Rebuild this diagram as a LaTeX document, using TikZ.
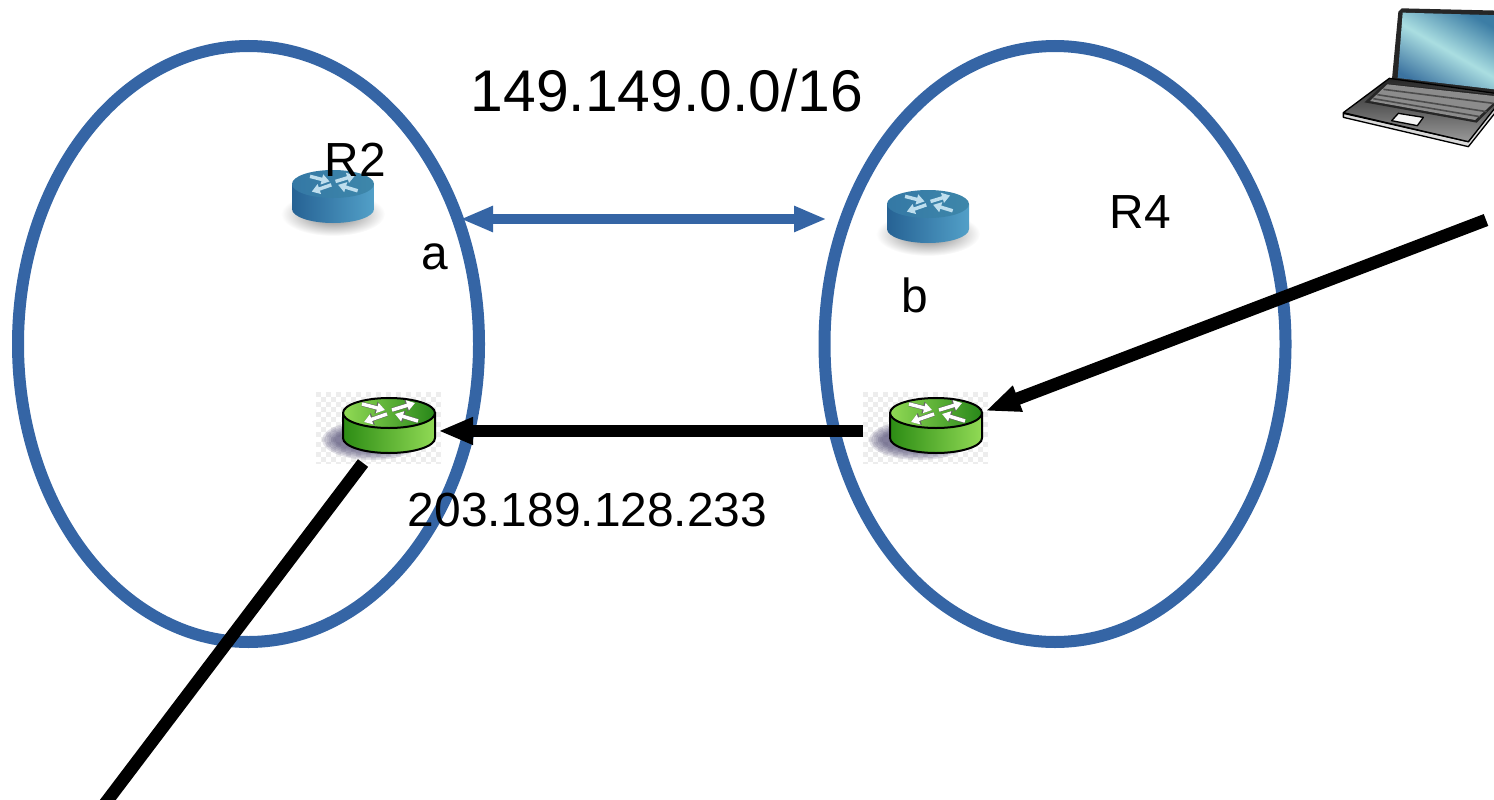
\documentclass[tikz,border=0pt]{standalone}
\usepackage{fontspec}
\setmainfont{Liberation Sans}
\usetikzlibrary{arrows.meta,shapes.geometric}
\definecolor{ringblue}{HTML}{3565A5}
\definecolor{softshadow}{HTML}{4A4570}
\tikzset{
  ring/.style={draw=ringblue,line width=9pt,ellipse,inner sep=0pt,outer sep=0pt,minimum width=345.75pt,minimum height=447pt},
  bluelink/.style={draw=ringblue,line width=8pt,{Triangle[length=24.5pt,width=18pt]}-{Triangle[length=24.5pt,width=18pt]},shorten <=-2pt,shorten >=-2pt},
  flow/.style={draw=black,line width=9.5pt,-{Triangle[length=26pt,width=19pt]},shorten >=-2pt},
  flowplain/.style={draw=black,line width=9.5pt},
  big/.style={font=\fontsize{44.1pt}{50pt}\selectfont,inner sep=0pt},
  mid/.style={font=\fontsize{35.9pt}{42pt}\selectfont,inner sep=0pt},
  tile/.style={inner sep=0pt,outer sep=0pt,minimum width=93.75pt,minimum height=53.25pt},
  rarrowfill/.style={line width=2.6pt,-{Triangle[length=6pt,width=7.5pt]},line cap=butt},
  rarrowedge/.style={line width=3.4pt,-{Triangle[length=7pt,width=8.8pt]},line cap=butt},
}
\newcommand{\routerbody}[9]{%
  \begin{scope}[shift={#1}]
    \shade[left color=#5,right color=#6,#9]
      (-#2,0) -- (-#2,#4) arc[start angle=180,end angle=0,x radius=#2,y radius=#3] -- (#2,0) -- cycle;
    \shade[left color=#7,right color=#8,#9] (0,0) ellipse[x radius=#2,y radius=#3];
  \end{scope}}
\newcommand{\routerarrows}[4]{%
  \begin{scope}[shift={#1},xscale=#2,yscale=#2]
    \foreach \sa/\ta in {{(-27,-9)/(-4,-3)},{(3,-3)/(26,-10)},{(-2,1)/(-25,9)},{(29,8)/(6,1)}}{
      \ifx#4\relax\else\draw[rarrowedge,#4] \sa -- \ta;\fi
      \draw[rarrowfill,#3] \sa -- \ta;
    }
  \end{scope}}
\newcommand{\checker}[4]{%
  \begin{scope}
    \clip (#1,#2) rectangle (#3,#4);
    \fill[white] (#1,#2) rectangle (#3,#4);
    \foreach \i in {0,...,25}{\foreach \j in {0,...,14}{
      \pgfmathtruncatemacro{\odd}{mod(\i+\j,2)}
      \ifnum\odd=0 \fill[black!7] ({#1+\i*5},{#2+\j*5}) rectangle ++(5,5);\fi
    }}
  \end{scope}}
\newcommand{\softshade}[2]{%
  \foreach \k in {0,...,6}{
    \fill[softshadow,opacity=.15] (#1,#2) ellipse[x radius={50-2.2*\k},y radius={20-1.5*\k}];
  }}
\begin{document}
\begin{tikzpicture}[x=.75pt,y=-.75pt]
\useasboundingbox (0,0) rectangle (1494,799);
\clip (0,0) rectangle (1494,799);

% regions
\node[ring] (e1) at (248.5,344) {};
\node[ring] (e2) at (1055,344) {};

% blue routers
\shade[inner color=black!55,outer color=white] (333,214) ellipse[x radius=52,y radius=22];
\routerbody{(333,184)}{41}{14}{25}{ {rgb,255:red,38;green,98;blue,148} }{ {rgb,255:red,82;green,160;blue,200} }{ {rgb,255:red,52;green,120;blue,165} }{ {rgb,255:red,62;green,135;blue,170} }{draw=none}
\routerarrows{(333,184)}{.85}{color={rgb,255:red,190;green,222;blue,238}}{\relax}
\shade[inner color=black!55,outer color=white] (928,234) ellipse[x radius=52,y radius=22];
\routerbody{(928,204)}{41}{14}{25}{ {rgb,255:red,38;green,98;blue,148} }{ {rgb,255:red,82;green,160;blue,200} }{ {rgb,255:red,52;green,120;blue,165} }{ {rgb,255:red,62;green,135;blue,170} }{draw=none}
\routerarrows{(928,204)}{.85}{color={rgb,255:red,190;green,222;blue,238}}{\relax}

% green routers
\node[tile] (g1) at (378.5,427.5) {};
\checker{316}{392}{441}{463}
\softshade{372}{440}
\routerbody{(389,413)}{46}{15}{25}{ {rgb,255:red,44;green,140;blue,20} }{ {rgb,255:red,145;green,218;blue,85} }{ {rgb,255:red,145;green,218;blue,85} }{ {rgb,255:red,40;green,135;blue,25} }{draw=black,line width=1.5pt}
\routerarrows{(389,413)}{1}{white}{black!60}

\node[tile] (g2) at (925.5,427.5) {};
\checker{863}{392}{988}{463}
\softshade{919}{440}
\routerbody{(936,413)}{46}{15}{25}{ {rgb,255:red,44;green,140;blue,20} }{ {rgb,255:red,145;green,218;blue,85} }{ {rgb,255:red,145;green,218;blue,85} }{ {rgb,255:red,40;green,135;blue,25} }{draw=black,line width=1.5pt}
\routerarrows{(936,413)}{1}{white}{black!60}

% laptop
\begin{scope}[shift={(1330,0)},x=.25pt,y=-.25pt,line join=round]
  \fill[black!85] (205,35) -- (215,25) -- (510,32) -- (510,285) -- (186,236) -- cycle;
  \shade[top color={rgb,255:red,60;green,125;blue,165},bottom color={rgb,255:red,60;green,115;blue,160},middle color={rgb,255:red,170;green,222;blue,225},shading angle=-30] (218,38) -- (510,46) -- (510,270) -- (203,234) -- cycle;
  \fill[white!85!black,draw=black,line width=1pt] (40,340) -- (40,352) -- (415,440) -- (510,320) -- (510,300) -- (415,425) -- cycle;
  \shade[top color=black!85,bottom color=black!40,draw=black,line width=1pt] (40,338) -- (178,235) -- (510,282) -- (510,305) -- (415,425) -- cycle;
  \fill[black!85] (165,250) -- (103,307) -- (440,368) -- (510,298) -- (510,285) -- cycle;
  \fill[black!45] (172,253) -- (120,303) -- (435,360) -- (510,290) -- cycle;
  \draw[black!70,line width=1.2pt] (160,268) -- (490,310) (142,284) -- (470,335) (130,296) -- (450,350);
  \fill[black!4,draw=black,line width=1pt] (205,340) -- (280,352) -- (262,377) -- (185,362) -- cycle;
\end{scope}

% free ends and contact points
\coordinate (pa) at (463,219);
\coordinate (pb) at (824,219);
\coordinate (lap) at (1486,220);
\coordinate (off) at (104,805);

% connectors
\draw[bluelink] (pa) -- (pb);
\draw[flow] ([yshift=-2.6pt]g2.west) -- ([yshift=-2.6pt]g1.east);
\draw[flow] (lap) -- ([yshift=13.1pt]g2.east);
\draw[flowplain] ([xshift=-11.6pt]g1.south) -- (off);

% labels
\node[big] (tnet) at (667,90) {149.149.0.0/16};
\node[mid] (taddr) at (587.5,510) {203.189.128.233};
\node[mid] (tr2) at (355.5,160) {R2};
\node[mid] (tr4) at (1140.5,212) {R4};
\node[mid] (ta) at (435,257) {a};
\node[mid] (tb) at (914.5,295) {b};
\end{tikzpicture}
\end{document}
